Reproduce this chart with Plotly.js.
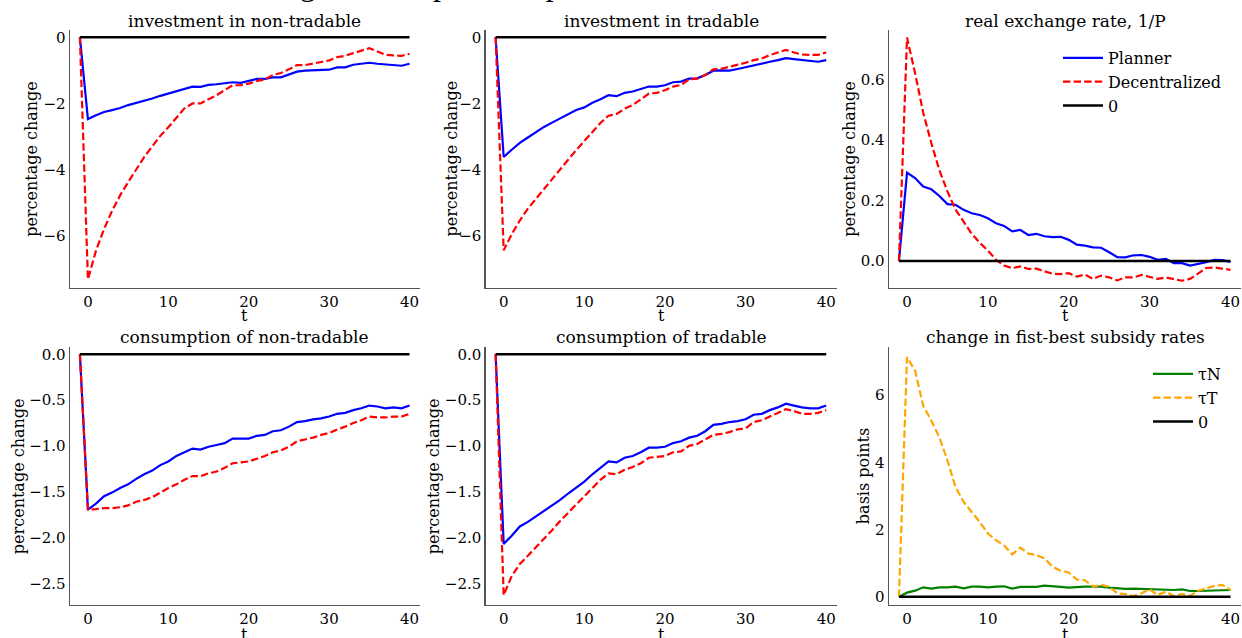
<!DOCTYPE html>
<html><head><meta charset="utf-8">
<script src="https://cdn.plot.ly/plotly-3.0.1.min.js"></script>
<style>html,body{margin:0;padding:0;background:#fff}</style>
</head><body><div id="chart" style="width:1242px;height:638px"></div>
<script>
// ---- data ----
const t = [-1,0,1,2,3,4,5,6,7,8,9,10,11,12,13,14,15,16,17,18,19,20,21,22,23,24,25,26,27,28,29,30,31,32,33,34,35,36,37,38,39,40];
const zero = [0,0,0,0,0,0,0,0,0,0,0,0,0,0,0,0,0,0,0,0,0,0,0,0,0,0,0,0,0,0,0,0,0,0,0,0,0,0,0,0,0,0];

const invN_planner = [0,-2.47,-2.36,-2.26,-2.20,-2.14,-2.05,-1.99,-1.93,-1.85,-1.77,-1.70,-1.62,-1.55,-1.49,-1.50,-1.44,-1.42,-1.38,-1.36,-1.38,-1.33,-1.26,-1.26,-1.21,-1.21,-1.12,-1.04,-1.01,-1.00,-1.00,-0.98,-0.91,-0.91,-0.83,-0.81,-0.77,-0.80,-0.82,-0.84,-0.86,-0.80];
const invN_decentral = [0,-7.32,-6.45,-5.80,-5.25,-4.78,-4.38,-3.98,-3.62,-3.30,-2.98,-2.72,-2.42,-2.15,-2.00,-2.00,-1.87,-1.75,-1.60,-1.45,-1.45,-1.40,-1.32,-1.28,-1.14,-1.08,-0.97,-0.84,-0.84,-0.79,-0.75,-0.70,-0.60,-0.56,-0.48,-0.40,-0.33,-0.43,-0.53,-0.55,-0.56,-0.50];

const invT_planner = [0,-3.62,-3.40,-3.19,-3.03,-2.86,-2.71,-2.58,-2.45,-2.33,-2.20,-2.12,-1.98,-1.87,-1.75,-1.78,-1.68,-1.64,-1.57,-1.49,-1.49,-1.45,-1.36,-1.34,-1.25,-1.24,-1.14,-1.01,-1.00,-1.01,-0.96,-0.90,-0.84,-0.80,-0.74,-0.69,-0.63,-0.66,-0.69,-0.72,-0.74,-0.69];
const invT_decentral = [0,-6.44,-5.95,-5.54,-5.18,-4.88,-4.58,-4.27,-3.97,-3.70,-3.41,-3.13,-2.86,-2.59,-2.37,-2.32,-2.16,-2.05,-1.88,-1.70,-1.68,-1.60,-1.49,-1.44,-1.27,-1.25,-1.14,-0.97,-0.95,-0.89,-0.84,-0.77,-0.69,-0.64,-0.54,-0.45,-0.38,-0.46,-0.52,-0.53,-0.53,-0.46];

const rer_planner = [0,0.292,0.274,0.246,0.237,0.215,0.188,0.186,0.169,0.158,0.152,0.141,0.125,0.116,0.098,0.103,0.086,0.090,0.082,0.079,0.080,0.070,0.054,0.051,0.045,0.044,0.029,0.013,0.012,0.019,0.020,0.014,0.004,0.007,-0.007,-0.007,-0.015,-0.010,-0.004,0.004,0.003,-0.003];
const rer_decentral = [0,0.738,0.62,0.49,0.39,0.30,0.23,0.17,0.13,0.09,0.06,0.035,0.004,-0.015,-0.023,-0.018,-0.026,-0.025,-0.034,-0.042,-0.043,-0.040,-0.051,-0.045,-0.059,-0.048,-0.054,-0.064,-0.054,-0.054,-0.046,-0.053,-0.059,-0.054,-0.059,-0.065,-0.059,-0.042,-0.023,-0.021,-0.025,-0.029];

const cN_planner = [0,-1.695,-1.63,-1.55,-1.51,-1.46,-1.42,-1.36,-1.31,-1.27,-1.21,-1.17,-1.11,-1.07,-1.03,-1.04,-1.01,-0.99,-0.97,-0.92,-0.92,-0.92,-0.89,-0.88,-0.84,-0.83,-0.79,-0.74,-0.73,-0.71,-0.70,-0.68,-0.65,-0.64,-0.61,-0.59,-0.56,-0.57,-0.59,-0.58,-0.59,-0.56];
const cN_decentral = [0,-1.695,-1.69,-1.68,-1.68,-1.67,-1.65,-1.61,-1.59,-1.56,-1.51,-1.46,-1.42,-1.37,-1.33,-1.33,-1.30,-1.28,-1.24,-1.19,-1.18,-1.17,-1.14,-1.11,-1.07,-1.05,-1.01,-0.95,-0.93,-0.91,-0.88,-0.86,-0.82,-0.79,-0.75,-0.72,-0.68,-0.69,-0.69,-0.68,-0.68,-0.65];

const cT_planner = [0,-2.07,-1.98,-1.88,-1.83,-1.77,-1.71,-1.65,-1.59,-1.52,-1.46,-1.39,-1.31,-1.24,-1.17,-1.18,-1.13,-1.11,-1.07,-1.02,-1.02,-1.01,-0.97,-0.95,-0.91,-0.89,-0.84,-0.77,-0.76,-0.74,-0.73,-0.71,-0.66,-0.65,-0.61,-0.58,-0.54,-0.56,-0.58,-0.59,-0.59,-0.56];
const cT_decentral = [0,-2.63,-2.42,-2.29,-2.20,-2.11,-2.02,-1.92,-1.82,-1.73,-1.64,-1.56,-1.47,-1.37,-1.30,-1.31,-1.26,-1.23,-1.19,-1.13,-1.12,-1.11,-1.07,-1.06,-1.00,-0.98,-0.93,-0.88,-0.87,-0.85,-0.82,-0.81,-0.74,-0.72,-0.68,-0.64,-0.60,-0.62,-0.65,-0.65,-0.64,-0.61];

const tauN = [0,0.12,0.18,0.28,0.24,0.28,0.28,0.30,0.25,0.30,0.30,0.28,0.30,0.31,0.24,0.29,0.29,0.29,0.33,0.30,0.29,0.27,0.29,0.30,0.30,0.30,0.27,0.24,0.23,0.24,0.23,0.22,0.20,0.20,0.20,0.22,0.17,0.17,0.18,0.18,0.20,0.20];
const tauT = [0,7.13,6.72,5.68,5.24,4.74,4.05,3.26,2.82,2.52,2.22,1.88,1.68,1.53,1.26,1.46,1.28,1.24,1.14,0.89,0.77,0.72,0.51,0.49,0.30,0.35,0.30,0.10,0.08,0.02,0.10,0.22,0.05,0.15,0.02,0.08,0.02,0.18,0.25,0.32,0.35,0.20];

const panelTitles = ["investment in non-tradable","investment in tradable","real exchange rate, 1/P",
                     "consumption of non-tradable","consumption of tradable","change in fist-best subsidy rates"];
const yLabels = ["percentage change","percentage change","percentage change","percentage change","percentage change","basis points"];
const xLabel = "t";
const seriesNames = ["Planner","Decentralized","0"];
const taxNames = ["τN","τT","0"];
const suptitle = "Figure 4: Impulse response functions, sectoral variables";

// ---- layout geometry (pixels) ----
const W = 1242, H = 638;
const px = v => v / W, py = v => 1 - v / H;
const cols = [[70, 420], [485.7, 836.7], [889, 1241]];
const rows = [[30, 287.7], [347.3, 605]];
const SERIF = "DejaVu Serif, serif";
const BLUE = "#0000ff", RED = "#ff0000", GREEN = "#008000", ORANGE = "#ffa500", BLACK = "#000000";
const DASH = "7.4px,3.2px";

const traces = [];
function add(panel, y, name, color, dash, width, legend, show) {
  const s = panel === 1 ? "" : String(panel);
  const tr = {x: t, y: y, xaxis: "x" + s, yaxis: "y" + s, mode: "lines", name: name,
    line: {color: color, width: width, dash: dash}, showlegend: !!show, hoverinfo: "skip"};
  if (legend) tr.legend = legend;
  traces.push(tr);
}
const pd = [[invN_planner, invN_decentral], [invT_planner, invT_decentral], [rer_planner, rer_decentral],
            [cN_planner, cN_decentral], [cT_planner, cT_decentral]];
pd.forEach((p, i) => {
  const show = i === 2;
  add(i + 1, p[0], seriesNames[0], BLUE, "solid", 2.2, "legend", show);
  add(i + 1, p[1], seriesNames[1], RED, DASH, 2.2, "legend", show);
  add(i + 1, zero, seriesNames[2], BLACK, "solid", 2.6, "legend", show);
});
add(6, tauN, taxNames[0], GREEN, "solid", 2.2, "legend2", true);
add(6, tauT, taxNames[1], ORANGE, DASH, 2.2, "legend2", true);
add(6, zero, taxNames[2], BLACK, "solid", 2.6, "legend2", true);

const yRanges = [[-7.57, 0.22], [-7.57, 0.22], [-0.088, 0.763], [-2.737, 0.076], [-2.737, 0.076], [-0.247, 7.42]];
const yTicks = [[0,-2,-4,-6],[0,-2,-4,-6],[0,0.2,0.4,0.6],[0,-0.5,-1,-1.5,-2,-2.5],[0,-0.5,-1,-1.5,-2,-2.5],[0,2,4,6]];
const yFmt = ["d","d",".1f",".1f",".1f","d"];

const legendFont = {family: SERIF, size: 16, color: "#000"};
const layout = {
  width: W, height: H, margin: {l: 0, r: 0, t: 0, b: 0},
  paper_bgcolor: "#ffffff", plot_bgcolor: "#ffffff",
  font: {family: SERIF, size: 15, color: "#000"},
  showlegend: true,
  legend: {x: px(1058), y: py(41), xanchor: "left", yanchor: "top", bgcolor: "rgba(0,0,0,0)",
           font: legendFont, traceorder: "normal", itemwidth: 40},
  legend2: {x: px(1148), y: py(357), xanchor: "left", yanchor: "top", bgcolor: "rgba(0,0,0,0)",
           font: legendFont, traceorder: "normal", itemwidth: 40},
  annotations: [], shapes: []
};

for (let i = 0; i < 6; i++) {
  const r = Math.floor(i / 3), c = i % 3;
  const s = i === 0 ? "" : String(i + 1);
  const xd = [px(cols[c][0]), px(cols[c][1])];
  const yd = [py(rows[r][1]), py(rows[r][0])];
  const axBase = {showgrid: false, zeroline: false, showline: true, linecolor: "#555555", linewidth: 1.4,
                  ticks: "", tickfont: {family: SERIF, size: 15, color: "#000"}, mirror: false, fixedrange: true};
  layout["xaxis" + s] = Object.assign({}, axBase, {domain: xd, anchor: "y" + s, range: [-2.23, 41.3],
                  tickvals: [0,10,20,30,40], ticktext: ["0","10","20","30","40"]});
  layout["yaxis" + s] = Object.assign({}, axBase, {domain: yd, anchor: "x" + s, range: yRanges[i],
                  tickvals: yTicks[i], tickformat: yFmt[i]});
  const cx = (cols[c][0] + cols[c][1]) / 2;
  // subplot title
  layout.annotations.push({text: panelTitles[i], xref: "paper", yref: "paper", x: px(cx), y: py(r === 0 ? 21 : 337),
    xanchor: "center", yanchor: "middle", showarrow: false, font: {family: SERIF, size: 17, color: "#000"}});
  // x label
  layout.annotations.push({text: xLabel, xref: "paper", yref: "paper", x: px(cx), y: py(r === 0 ? 316 : 634),
    xanchor: "center", yanchor: "middle", showarrow: false, font: {family: SERIF, size: 16, color: "#000"}});
}
const yLabX = [32, 451.7, 850, 18, 433, 863];
for (let i = 0; i < 6; i++) {
  const r = Math.floor(i / 3);
  const cy = (rows[r][0] + rows[r][1]) / 2;
  layout.annotations.push({text: yLabels[i], xref: "paper", yref: "paper", x: px(yLabX[i]), y: py(cy),
    xanchor: "center", yanchor: "middle", textangle: -90, showarrow: false, font: {family: SERIF, size: 16, color: "#000"}});
}
// suptitle (cut off at top edge as in the reference)
layout.annotations.push({text: suptitle, xref: "paper", yref: "paper", x: px(271), y: py(4.5),
  xanchor: "left", yanchor: "bottom", showarrow: false, font: {family: "Liberation Serif, serif", size: 32, color: "#000"}});

Plotly.newPlot("chart", traces, layout, {staticPlot: true, displayModeBar: false});
</script>
</body></html>
